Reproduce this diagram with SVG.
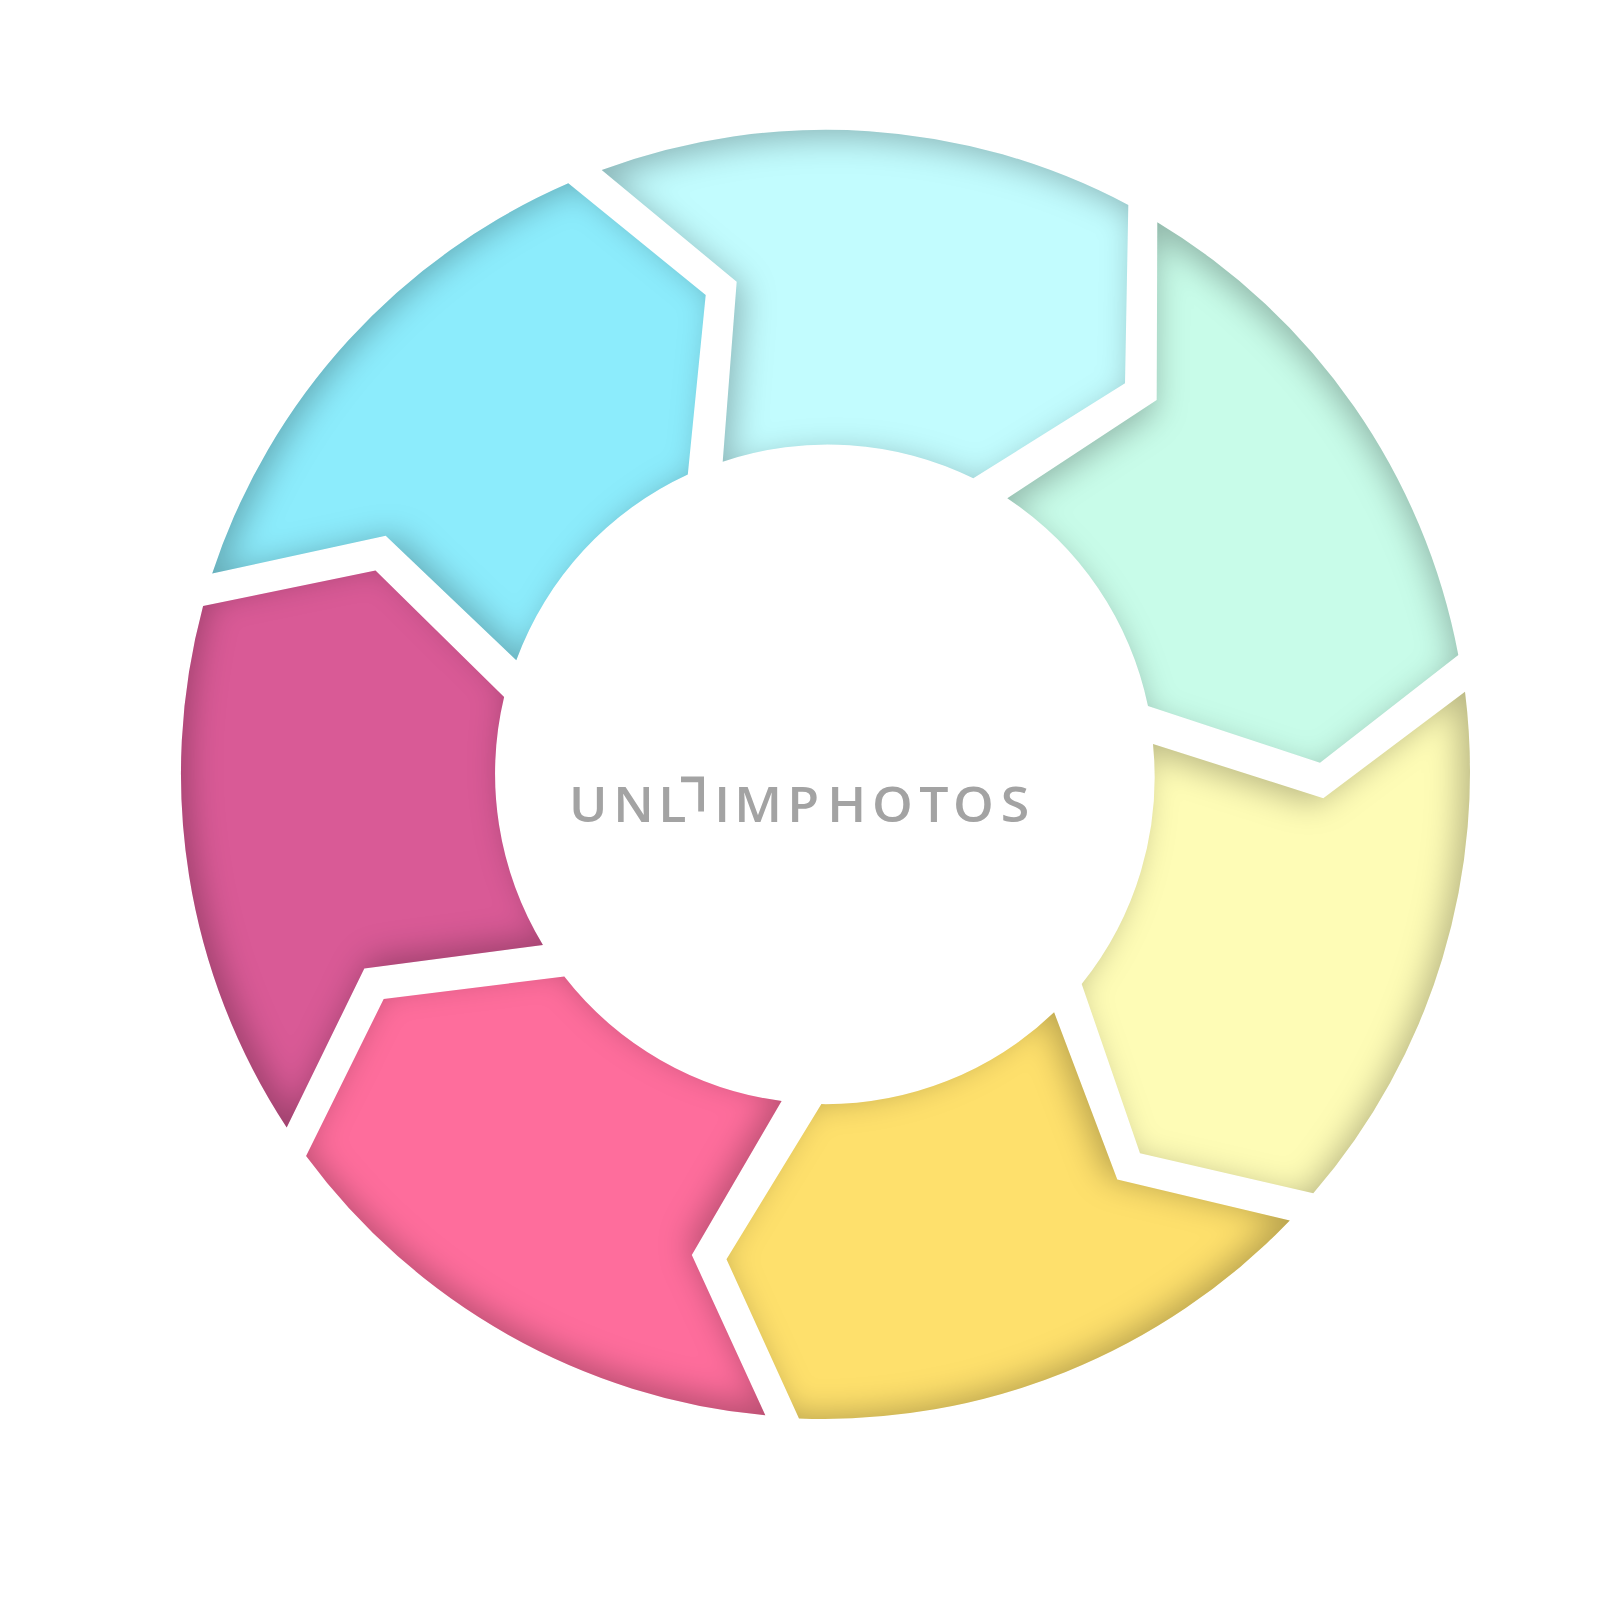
<svg xmlns="http://www.w3.org/2000/svg" width="1600" height="1600" viewBox="0 0 1600 1600">
  <defs>
    <style>
      .wm { font-family: "Open Sans", "Liberation Sans", sans-serif; font-size: 48px; font-weight: 600; fill: #a3a3a3; }
      .br { fill: none; stroke: #a3a3a3; stroke-width: 5.8; stroke-linejoin: miter; stroke-linecap: butt; }
    </style>
    <filter id="fA" x="-15%" y="-15%" width="130%" height="130%" color-interpolation-filters="sRGB">
      <feComponentTransfer in="SourceAlpha" result="inv"><feFuncA type="table" tableValues="1 0"/></feComponentTransfer>
      <feGaussianBlur in="inv" stdDeviation="16"/>
      <feOffset dx="7.3" dy="8.3" result="off"/>
      <feFlood flood-color="#000" flood-opacity="0.27"/>
      <feComposite in2="off" operator="in"/>
      <feComposite in2="SourceAlpha" operator="in" result="sh"/>
      <feMerge><feMergeNode in="SourceGraphic"/><feMergeNode in="sh"/></feMerge>
    </filter>
    <filter id="fB" x="-15%" y="-15%" width="130%" height="130%" color-interpolation-filters="sRGB">
      <feComponentTransfer in="SourceAlpha" result="inv"><feFuncA type="table" tableValues="1 0"/></feComponentTransfer>
      <feGaussianBlur in="inv" stdDeviation="16"/>
      <feOffset dx="-2" dy="10.9" result="off"/>
      <feFlood flood-color="#000" flood-opacity="0.27"/>
      <feComposite in2="off" operator="in"/>
      <feComposite in2="SourceAlpha" operator="in" result="sh"/>
      <feMerge><feMergeNode in="SourceGraphic"/><feMergeNode in="sh"/></feMerge>
    </filter>
    <filter id="fC" x="-15%" y="-15%" width="130%" height="130%" color-interpolation-filters="sRGB">
      <feComponentTransfer in="SourceAlpha" result="inv"><feFuncA type="table" tableValues="1 0"/></feComponentTransfer>
      <feGaussianBlur in="inv" stdDeviation="16"/>
      <feOffset dx="-9.7" dy="5.2" result="off"/>
      <feFlood flood-color="#000" flood-opacity="0.27"/>
      <feComposite in2="off" operator="in"/>
      <feComposite in2="SourceAlpha" operator="in" result="sh"/>
      <feMerge><feMergeNode in="SourceGraphic"/><feMergeNode in="sh"/></feMerge>
    </filter>
    <filter id="fD" x="-15%" y="-15%" width="130%" height="130%" color-interpolation-filters="sRGB">
      <feComponentTransfer in="SourceAlpha" result="inv"><feFuncA type="table" tableValues="1 0"/></feComponentTransfer>
      <feGaussianBlur in="inv" stdDeviation="16"/>
      <feOffset dx="-10.1" dy="-4.3" result="off"/>
      <feFlood flood-color="#000" flood-opacity="0.27"/>
      <feComposite in2="off" operator="in"/>
      <feComposite in2="SourceAlpha" operator="in" result="sh"/>
      <feMerge><feMergeNode in="SourceGraphic"/><feMergeNode in="sh"/></feMerge>
    </filter>
    <filter id="fE" x="-15%" y="-15%" width="130%" height="130%" color-interpolation-filters="sRGB">
      <feComponentTransfer in="SourceAlpha" result="inv"><feFuncA type="table" tableValues="1 0"/></feComponentTransfer>
      <feGaussianBlur in="inv" stdDeviation="16"/>
      <feOffset dx="-3" dy="-10.6" result="off"/>
      <feFlood flood-color="#000" flood-opacity="0.27"/>
      <feComposite in2="off" operator="in"/>
      <feComposite in2="SourceAlpha" operator="in" result="sh"/>
      <feMerge><feMergeNode in="SourceGraphic"/><feMergeNode in="sh"/></feMerge>
    </filter>
    <filter id="fF" x="-15%" y="-15%" width="130%" height="130%" color-interpolation-filters="sRGB">
      <feComponentTransfer in="SourceAlpha" result="inv"><feFuncA type="table" tableValues="1 0"/></feComponentTransfer>
      <feGaussianBlur in="inv" stdDeviation="16"/>
      <feOffset dx="6.5" dy="-8.9" result="off"/>
      <feFlood flood-color="#000" flood-opacity="0.27"/>
      <feComposite in2="off" operator="in"/>
      <feComposite in2="SourceAlpha" operator="in" result="sh"/>
      <feMerge><feMergeNode in="SourceGraphic"/><feMergeNode in="sh"/></feMerge>
    </filter>
    <filter id="fG" x="-15%" y="-15%" width="130%" height="130%" color-interpolation-filters="sRGB">
      <feComponentTransfer in="SourceAlpha" result="inv"><feFuncA type="table" tableValues="1 0"/></feComponentTransfer>
      <feGaussianBlur in="inv" stdDeviation="16"/>
      <feOffset dx="11" dy="-0.5" result="off"/>
      <feFlood flood-color="#000" flood-opacity="0.27"/>
      <feComposite in2="off" operator="in"/>
      <feComposite in2="SourceAlpha" operator="in" result="sh"/>
      <feMerge><feMergeNode in="SourceGraphic"/><feMergeNode in="sh"/></feMerge>
    </filter>
  </defs>
  <rect width="1600" height="1600" fill="#ffffff"/>

  <g id="seg-cyan" filter="url(#fA)">
    <path fill="#c2fcfe" d="M601.7,170 L736.7,281.7 L722.7,461.7 A330,330 0 0 1 973.3,478.3 L1125,383.3 L1128.3,205 A645,645 0 0 0 601.7,170 Z"/>
  </g>
  <g id="seg-mint" filter="url(#fB)">
    <path fill="#c8fce9" d="M1157.3,222.3 L1156.7,400 L1007.3,498.3 A330,330 0 0 1 1148,706.1 L1320,762.7 L1458.3,655 A645,645 0 0 0 1157.3,222.3 Z"/>
  </g>
  <g id="seg-yellow" filter="url(#fC)">
    <path fill="#fefcb6" d="M1465,691.7 L1323.3,798.3 L1153,744 A330,330 0 0 1 1081.7,984 L1140,1153.3 L1313.3,1193.3 A645,645 0 0 0 1465,691.7 Z"/>
  </g>
  <g id="seg-orange" filter="url(#fD)">
    <path fill="#fee06c" d="M1289.8,1220.4 L1117.3,1179.6 L1054.1,1012.2 A330,330 0 0 1 821.4,1104.1 L726.5,1259.2 L799,1418.4 A645,645 0 0 0 1289.8,1220.4 Z"/>
  </g>
  <g id="seg-pink" filter="url(#fE)">
    <path fill="#fe6d9c" d="M765.3,1415.3 L691.8,1255.1 L781.6,1101 A330,330 0 0 1 564.3,976.5 L383.7,999 L306.1,1156.1 A645,645 0 0 0 765.3,1415.3 Z"/>
  </g>
  <g id="seg-magenta" filter="url(#fF)">
    <path fill="#d95a96" d="M286.7,1127.6 L364.3,968.4 L542.9,944.9 A330,330 0 0 1 504.1,697 L375.5,570.4 L203.1,606.1 A645,645 0 0 0 286.7,1127.6 Z"/>
  </g>
  <g id="seg-blue" filter="url(#fG)">
    <path fill="#8cecfc" d="M212.2,573.5 L385.7,535.7 L516.3,660.2 A330,330 0 0 1 687.8,474.5 L705.7,295 L568.3,183.3 A645,645 0 0 0 212.2,573.5 Z"/>
  </g>

  <g id="watermark">
    <g transform="scale(1.08,1)">
      <text class="wm" x="526.8 567.9 609.5" y="822">UNL</text>
      <text class="wm" x="661.4 679.9 729 766 807.5 851.1 882.5 926.6" y="822">IMPHOTOS</text>
    </g>
    <path class="br" d="M681,779.4 H701.1 V811.4"/>
  </g>
</svg>
